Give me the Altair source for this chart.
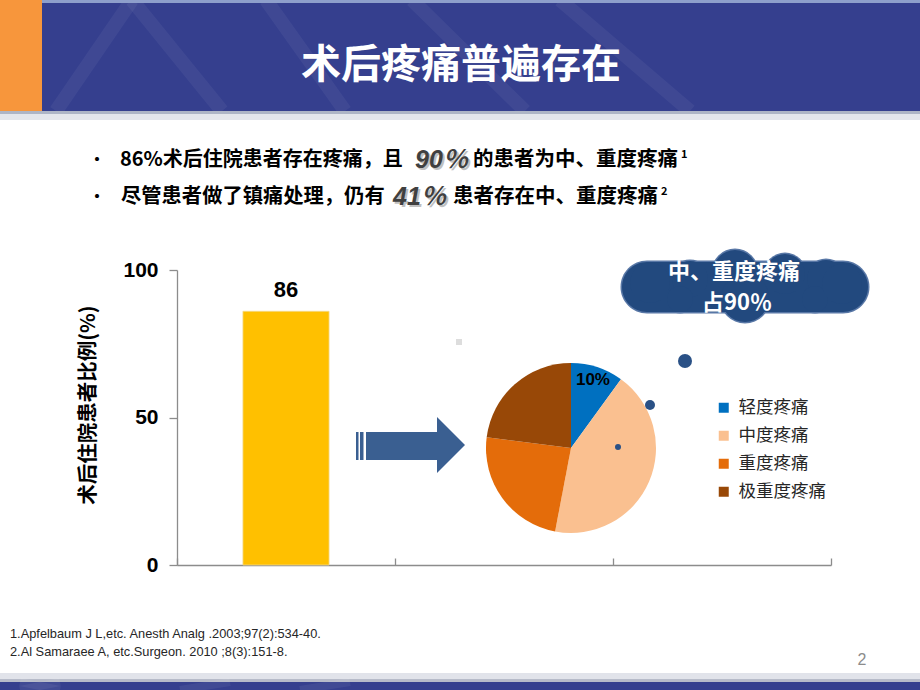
import altair as alt
import pandas as pd

# ---------------- data ----------------
bar_categories = ["术后住院患者", " ", "  "]
bar_values = [86]
y_tick_values = [0, 50, 100]

pain_levels = ["轻度疼痛", "中度疼痛", "重度疼痛", "极重度疼痛"]
pain_shares = [10, 43, 24, 23]
pain_labels = ["10%", "", "", ""]
pain_colors = ["#0070C0", "#FAC090", "#E46C0A", "#984807"]

title_text = "术后疼痛普遍存在"
bullet1_parts = ["86%术后住院患者存在疼痛，且", "90％", "的患者为中、重度疼痛", "1"]
bullet2_parts = ["尽管患者做了镇痛处理，仍有", "41％", "患者存在中、重度疼痛", "2"]
y_title = "术后住院患者比例(%)"
cloud_lines = ["中、重度疼痛", "占90％"]
references = ["1.Apfelbaum  J L,etc. Anesth Analg .2003;97(2):534-40.",
              "2.Al Samaraee A, etc.Surgeon. 2010 ;8(3):151-8."]
page_number = "2"

# ---------------- layout helpers ----------------
CJK = "Noto Sans CJK SC"
LAT = "Liberation Sans"
OX, OY = 177, 270          # plot-area origin on the page
PW, PH = 654, 295          # plot-area size
NAVY = "#353F8E"

dummy = pd.DataFrame({"k": [0]})


def px(x):
    return x - OX


def py(y):
    return y - OY


def rect(x1, y1, x2, y2, color, opacity=1.0, corner=0):
    kw = dict(color=color, opacity=opacity)
    if corner:
        kw["cornerRadius"] = corner
    return alt.Chart(dummy).mark_rect(**kw).encode(
        x=alt.value(px(x1)), x2=alt.value(px(x2)),
        y=alt.value(py(y1)), y2=alt.value(py(y2)))


def rule(x1, y1, x2, y2, color, width, opacity=1.0):
    return alt.Chart(dummy).mark_rule(color=color, strokeWidth=width, opacity=opacity).encode(
        x=alt.value(px(x1)), x2=alt.value(px(x2)),
        y=alt.value(py(y1)), y2=alt.value(py(y2)))


def dot(cx, cy, r, color):
    return alt.Chart(dummy).mark_circle(size=4 * r * r, color=color, opacity=1).encode(
        x=alt.value(px(cx)), y=alt.value(py(cy)))


def label(text, x, y, size, color="#000000", weight="bold", font=CJK,
          align="left", baseline="middle", style=None, angle=None, opacity=1.0):
    kw = dict(align=align, baseline=baseline, fontSize=size, fontWeight=weight,
              font=font, color=color, opacity=opacity)
    if style:
        kw["fontStyle"] = style
    if angle is not None:
        kw["angle"] = angle
    return alt.Chart(pd.DataFrame({"t": [text]})).mark_text(**kw).encode(
        x=alt.value(px(x)), y=alt.value(py(y)), text="t:N")


layers = []

# ---------------- header banner ----------------
layers.append(rect(0, 0, 920, 111, NAVY))
for (x1, y1, x2, y2) in [(132, 0, 56, 111), (132, 0, 222, 111), (266, 0, 345, 111),
                         (412, 0, 525, 111), (560, 0, 690, 111)]:
    layers.append(rule(x1, y1, x2, y2, "#FFFFFF", 14, 0.05))
layers.append(rect(42, 0, 920, 3, "#8E9FCB"))
layers.append(rect(0, 0, 42, 111, "#F7963C"))
layers.append(rect(0, 111, 920, 114, "#AEB5C6"))
layers.append(rect(0, 114, 920, 120, "#E4E6EC"))
layers.append(label(title_text, 461, 66, 40, color="#FFFFFF", align="center"))

# ---------------- footer banner ----------------
layers.append(rect(0, 673, 920, 682, "#E1E3EA"))
layers.append(rect(0, 679, 920, 682, "#B7BBC9"))
layers.append(rect(0, 682, 920, 690, NAVY))
for (x1, y1, x2, y2) in [(20, 682, 60, 690), (60, 682, 20, 690), (180, 690, 230, 682), (300, 690, 350, 682)]:
    layers.append(rule(x1, y1, x2, y2, "#FFFFFF", 8, 0.06))

# ---------------- bullet text ----------------
y1, y2 = 160, 197
BIG = LAT + ", " + CJK
layers.append(label("•", 89, y1, 16))
layers.append(label(bullet1_parts[0], 120, y1, 20))
layers.append(label(bullet1_parts[1], 417, y1 + 2, 25, color="#A6A6A6", font=BIG, style="italic", opacity=0.7))
layers.append(label(bullet1_parts[1], 415, y1, 25, color="#404040", font=BIG, style="italic"))
layers.append(label(bullet1_parts[2], 473, y1, 20.5))
layers.append(label(bullet1_parts[3], 681, y1 - 5, 11))

layers.append(label("•", 89, y2, 16))
layers.append(label(bullet2_parts[0], 121, y2, 20.3))
layers.append(label(bullet2_parts[1], 395, y2 + 2, 25, color="#A6A6A6", font=BIG, style="italic", opacity=0.7))
layers.append(label(bullet2_parts[1], 393, y2, 25, color="#404040", font=BIG, style="italic"))
layers.append(label(bullet2_parts[2], 453, y2, 20.5))
layers.append(label(bullet2_parts[3], 661, y2 - 5, 11))

# ---------------- bar chart ----------------
bar_df = pd.DataFrame({"cat": bar_categories[:1], "value": bar_values})
x_enc = alt.X("cat:N",
              scale=alt.Scale(domain=bar_categories, paddingInner=0, paddingOuter=0),
              axis=alt.Axis(orient="top", offset=-PH, tickBand="extent", labels=False,
                            title=None, domainColor="#8C8C8C", tickColor="#8C8C8C",
                            domainWidth=1.3, tickWidth=1.3, tickSize=7, grid=False))
y_enc = alt.Y("value:Q",
              scale=alt.Scale(domain=[0, 100], nice=False),
              axis=alt.Axis(values=y_tick_values, title=None, grid=False,
                            labelFont=LAT, labelFontWeight="bold", labelFontSize=21,
                            labelColor="#000000", labelPadding=11, tickSize=8,
                            tickColor="#8C8C8C", domainColor="#8C8C8C",
                            domainWidth=1.3, tickWidth=1.3))
bars = alt.Chart(bar_df).mark_bar(color="#FFC000", width=alt.RelativeBandSize(0.395),
                                  stroke="#F2D98C", strokeWidth=0.8).encode(x=x_enc, y=y_enc)
bar_text = alt.Chart(bar_df).mark_text(dy=-9, baseline="bottom", fontSize=22, fontWeight="bold",
                                       font=LAT, color="#000000").encode(
    x=alt.X("cat:N"), y=alt.Y("value:Q"), text="value:Q")
layers += [bars, bar_text]
layers.append(label(y_title, 89, 405, 20.5, angle=270, align="center"))

# ---------------- arrow ----------------
ARROW = "#3A5F91"
layers.append(rect(356, 432, 358.5, 460, ARROW))
layers.append(rect(360, 432, 363.5, 460, ARROW))
layers.append(rect(366, 432, 438, 460, ARROW))
layers.append(alt.Chart(dummy).mark_point(shape="M-0.5,-1L0.5,0L-0.5,1Z", size=56 * 56, filled=True,
                                          color=ARROW, opacity=1).encode(
    x=alt.value(px(451)), y=alt.value(py(445))))
layers.append(rect(456, 339, 462, 345, "#DDDDDD"))

# ---------------- pie ----------------
pie_df = pd.DataFrame({"level": pain_levels, "share": pain_shares, "label": pain_labels,
                       "idx": list(range(len(pain_levels)))})
pie_base = alt.Chart(pie_df).encode(
    theta=alt.Theta("share:Q", stack=True),
    order=alt.Order("idx:Q"),
    x=alt.value(px(571)), y=alt.value(py(448)))
arcs = pie_base.mark_arc(outerRadius=85).encode(
    color=alt.Color("level:N", scale=alt.Scale(domain=pain_levels, range=pain_colors),
                    legend=alt.Legend(title=None, orient="none", legendX=px(715), legendY=py(399),
                                      symbolType="square", symbolSize=100, symbolStrokeWidth=0,
                                      labelFont=CJK, labelFontSize=17.5, labelColor="#262626",
                                      rowPadding=9, labelOffset=6, padding=0)))
pie_text = pie_base.mark_text(radius=71, fontSize=17, fontWeight="bold", font=LAT,
                              color="#000000").encode(text="label:N")
layers += [arcs, pie_text]

# ---------------- thought bubble ----------------
BUB = "#2A5186"
layers.append(dot(685, 361, 7, BUB))
layers.append(dot(650, 405, 5, BUB))
layers.append(dot(618, 447, 3, BUB))

CLOUD = "#22497E"
EDGE = "#5877A6"
bumps = [(690, 279, 18), (735, 272, 22), (785, 274, 20), (826, 279, 19),
         (745, 298, 24), (680, 299, 13), (815, 299, 13), (650, 283, 20), (842, 284, 20)]
layers.append(rect(620.5, 260.5, 869.5, 313.5, EDGE, corner=27))
for cx, cy, r in bumps:
    layers.append(dot(cx, cy, r + 1.5, EDGE))
layers.append(rect(622, 262, 868, 312, CLOUD, corner=25))
for cx, cy, r in bumps:
    layers.append(dot(cx, cy, r, CLOUD))
layers.append(label(cloud_lines[0], 734, 272, 22, color="#FFFFFF", align="center"))
layers.append(label(cloud_lines[1], 737, 303, 22, color="#FFFFFF", align="center"))

# ---------------- references / page number ----------------
ref_font = "Liberation Sans Narrow, " + LAT
layers.append(label(references[0], 10, 634, 12.8, color="#262626", weight="normal", font=ref_font))
layers.append(label(references[1], 10, 652, 12.8, color="#262626", weight="normal", font=ref_font))
layers.append(label(page_number, 862, 660, 16, color="#8C8C8C", weight="normal", font=ref_font,
                    align="center"))

chart = alt.layer(*layers).properties(
    width=PW, height=PH,
    padding={"left": OX, "top": OY, "right": 920 - OX - PW, "bottom": 690 - OY - PH},
    autosize=alt.AutoSizeParams(type="none"),
    background="#FFFFFF",
).configure_view(stroke=None)

chart.save("out.html", embed_options={"renderer": "svg", "actions": False})
